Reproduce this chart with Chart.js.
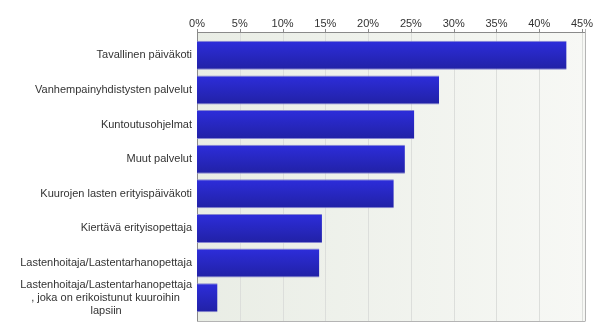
<!DOCTYPE html>
<html>
<head>
<meta charset="utf-8">
<script src="https://cdn.jsdelivr.net/npm/chart.js@4"></script>
<style>
  html, body { margin: 0; padding: 0; background: #fff; }
  #wrap { width: 600px; height: 336px; }
</style>
</head>
<body>
<div id="wrap"><canvas id="chart"></canvas></div>
<script>
// data
const categories = [
    'Tavallinen päiväkoti',
    'Vanhempainyhdistysten palvelut',
    'Kuntoutusohjelmat',
    'Muut palvelut',
    'Kuurojen lasten erityispäiväkoti',
    'Kiertävä erityisopettaja',
    'Lastenhoitaja/Lastentarhanopettaja',
    ['Lastenhoitaja/Lastentarhanopettaja', ', joka on erikoistunut kuuroihin', 'lapsiin']
];
const percents = [43.2, 28.3, 25.4, 24.3, 23.0, 14.6, 14.3, 2.4];
const tickMax = 45;
const tickStep = 5;

const PAD = 6; // frame extends beyond the category band

// centre the wrapped lines of a label under its widest line
function centreLines(lines, ctx) {
    const w = lines.map(l => ctx.measureText(l).width);
    const max = Math.max(...w);
    const sp = ctx.measureText(' ').width;
    return lines.map((l, i) => l + ' '.repeat(Math.round((max - w[i]) / 2 / sp)));
}

const measure = document.createElement('canvas').getContext('2d');
measure.font = '11px "Liberation Sans", Arial, sans-serif';
const labels = categories.map(c => Array.isArray(c) ? centreLines(c, measure) : c);

const framePlugin = {
    id: 'frame',
    beforeDatasetsDraw(chart) {
        const { ctx, chartArea: a, scales: { x } } = chart;
        const top = a.top - PAD, bottom = a.bottom + PAD;
        const right = a.right + 3;
        ctx.save();
        const g = ctx.createLinearGradient(a.left, 0, right, 0);
        g.addColorStop(0, '#e9ede5');
        g.addColorStop(1, '#f7f8f5');
        ctx.fillStyle = g;
        ctx.fillRect(a.left, top, right - a.left, bottom - top);

        // vertical grid + tick marks
        for (let v = tickStep; v <= tickMax; v += tickStep) {
            const px = Math.round(x.getPixelForValue(v)) + 0.5;
            ctx.strokeStyle = '#dcdedb';
            ctx.lineWidth = 1;
            ctx.beginPath();
            ctx.moveTo(px, top);
            ctx.lineTo(px, bottom);
            ctx.stroke();
            ctx.strokeStyle = '#8a8a8a';
            ctx.beginPath();
            ctx.moveTo(px, top - 3);
            ctx.lineTo(px, top);
            ctx.stroke();
        }

        // frame
        ctx.strokeStyle = '#8a8a8a';
        ctx.beginPath();
        ctx.moveTo(a.left + 0.5, top - 3);
        ctx.lineTo(a.left + 0.5, bottom + 0.5);
        ctx.moveTo(a.left, top + 0.5);
        ctx.lineTo(right, top + 0.5);
        ctx.stroke();
        ctx.strokeStyle = '#b4b4b4';
        ctx.beginPath();
        ctx.moveTo(a.left, bottom + 0.5);
        ctx.lineTo(right, bottom + 0.5);
        ctx.moveTo(right + 0.5, top - 3);
        ctx.lineTo(right + 0.5, bottom + 0.5);
        ctx.stroke();
        ctx.restore();
    }
};

function barFill(c) {
    const chart = c.chart;
    const ys = chart.scales && chart.scales.y;
    if (!chart.chartArea || !ys || c.dataIndex === undefined) return '#2828c8';
    const cy = ys.getPixelForValue(c.dataIndex);
    const h = 29;
    if (!isFinite(cy)) return '#2828c8';
    const g = chart.ctx.createLinearGradient(0, cy - h / 2, 0, cy + h / 2);
    g.addColorStop(0, '#2d2ddb');
    g.addColorStop(1, '#2121a5');
    return g;
}

new Chart(document.getElementById('chart'), {
    type: 'bar',
    data: {
        labels: labels,
        datasets: [{
            data: percents,
            backgroundColor: barFill,
            borderColor: '#8585d0',
            borderWidth: { top: 1, bottom: 1, left: 0, right: 0 },
            borderSkipped: false,
            barPercentage: 0.84,
            categoryPercentage: 1
        }]
    },
    options: {
        indexAxis: 'y',
        responsive: true,
        maintainAspectRatio: false,
        animation: false,
        layout: { padding: { left: 0, right: 18, top: 0, bottom: 21 } },
        scales: {
            x: {
                position: 'top',
                min: 0,
                max: tickMax,
                afterFit: (s) => { s.height = 38; },
                ticks: {
                    stepSize: tickStep,
                    autoSkip: false,
                    maxRotation: 0,
                    padding: 7,
                    color: '#333',
                    font: { family: '"Liberation Sans", Arial, sans-serif', size: 11 },
                    callback: (v) => v + '%'
                },
                grid: { display: false, drawTicks: false },
                border: { display: false }
            },
            y: {
                afterFit: (s) => { s.width = 197; },
                ticks: {
                    autoSkip: false,
                    padding: 5,
                    color: '#333',
                    font: { family: '"Liberation Sans", Arial, sans-serif', size: 11, lineHeight: 1.2 }
                },
                grid: { display: false, drawTicks: false },
                border: { display: false }
            }
        },
        plugins: {
            legend: { display: false },
            tooltip: { enabled: false }
        }
    },
    plugins: [framePlugin]
});
</script>
</body>
</html>
